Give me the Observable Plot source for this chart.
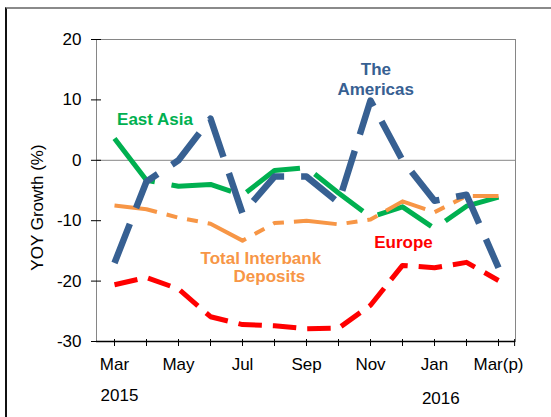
<!DOCTYPE html>
<html>
<head>
<meta charset="utf-8">
<script src="https://cdn.jsdelivr.net/npm/d3@7"></script>
<script src="https://cdn.jsdelivr.net/npm/@observablehq/plot@0.6"></script>
<style>
html, body { margin: 0; padding: 0; background: #fff; }
#wrap { position: relative; width: 551px; height: 417px; overflow: hidden; background: #fff; }
#wrap svg { position: absolute; left: 0; top: 0; }
#border { position: absolute; left: 5px; top: 7px; width: 700px; height: 600px;
  border-left: 2px solid #111; border-top: 2px solid #8a8a8a; }
</style>
</head>
<body>
<div id="wrap"></div>
<script>
// ---- data ----
const months = ["Mar","Apr","May","Jun","Jul","Aug","Sep","Oct","Nov","Dec","Jan","Feb","Mar(p)"];
const labeledMonths = ["Mar","May","Jul","Sep","Nov","Jan","Mar(p)"];
const yTicks = [-30, -20, -10, 0, 10, 20];
const yearLabels = ["2015", "2016"];
const yearMonths = ["Mar", "Jan"];

const americas = [-17.0, -3.5, 0.0, 6.9, -8.8, -2.7, -2.7, -7.0, 9.9, 0.0, -6.7, -5.7, -17.8];
const eastAsia = [3.6, -3.3, -4.3, -4.0, -5.8, -1.7, -1.2, -5.4, -9.4, -7.7, -11.3, -7.6, -6.1];
const interbank = [-7.5, -8.1, -9.5, -10.5, -13.3, -10.4, -10.0, -10.6, -9.8, -6.8, -8.6, -5.9, -5.9];
const europe = [-20.6, -19.4, -21.3, -25.9, -27.2, -27.4, -27.9, -27.8, -24.0, -17.4, -17.8, -16.9, -19.9];

// ---- layout ----
const W = 551, H = 417, ML = 96, MR = 36, MT = 39, MB = 76;
const step = (W - ML - MR) / months.length;
const font = "'Liberation Sans', Arial, sans-serif";

const toRows = vals => months.map((m, i) => ({month: m, value: vals[i]}));

const series = [
  {values: eastAsia, color: "#00B050", width: 5, dash: "61,17"},
  {values: interbank, color: "#F79646", width: 4, dash: "43,10,11,10,11,10"},
  {values: europe, color: "#FF0000", width: 5, dash: "23.5,11"},
  {values: americas, color: "#376092", width: 6.5, dash: "42,17"}
];

// annotation labels (data-space anchor + small offsets)
const notes = [
  {text: "East Asia", month: "Apr", value: 5.84, dx: 8.5, color: "#00B050"},
  {text: "The", month: "Nov", value: 14.04, dx: 5.4, color: "#376092"},
  {text: "Americas", month: "Nov", value: 10.73, dx: 5.2, color: "#376092"},
  {text: "Total Interbank", month: "Jul", value: -17.14, dx: 18.3, color: "#F79646"},
  {text: "Deposits", month: "Jul", value: -20.15, dx: 26.9, color: "#F79646"},
  {text: "Europe", month: "Dec", value: -14.52, dx: 1.0, color: "#FF0000"}
];

const marks = [
  Plot.ruleY([0], {stroke: "#868686", strokeWidth: 1}),
  Plot.frame({stroke: "#868686", strokeWidth: 1}),
  // y tick marks crossing the axis
  Plot.tickY(yTicks, {y: d => d, insetRight: (W - ML - MR) - 10, dx: -5, stroke: "#000", strokeWidth: 1}),
  // x tick marks
  Plot.tickX(months, {x: d => d, insetTop: 300, insetBottom: -5, stroke: "#000", strokeWidth: 1}),
  Plot.tickX([months[months.length - 1]], {x: d => d, dx: step / 2, insetTop: 300, insetBottom: -5, stroke: "#000", strokeWidth: 1}),
  Plot.ruleY([-30], {stroke: "#000", strokeWidth: 1.5}),
  Plot.axisY({ticks: yTicks, tickSize: 0, tickPadding: 15, tickFormat: d => String(d),
    line: true, stroke: "#000", fontSize: 17, fill: "#000", label: null}),
  Plot.axisX({ticks: labeledMonths, tickSize: 0, tickPadding: 16.5, fontSize: 17, fill: "#000", label: null}),
  ...series.map(s => Plot.line(toRows(s.values), {
    x: "month", y: "value", stroke: s.color, strokeWidth: s.width,
    strokeDasharray: s.dash, strokeLinejoin: "round", strokeLinecap: "butt"
  })),
  ...notes.map(n => Plot.text([n], {
    x: "month", y: "value", text: "text", dx: n.dx, fill: n.color,
    fontSize: 17, fontWeight: "bold", lineAnchor: "bottom", textAnchor: "middle"
  })),
  Plot.text(["YOY Growth (%)"], {text: d => d, frameAnchor: "left", textAnchor: "middle", lineAnchor: "middle",
    rotate: -90, dx: -59.4, dy: 17, fontSize: 17, fill: "#000"}),
  Plot.text([{m: yearMonths[0], t: yearLabels[0]}], {x: "m", y: () => -30, text: "t", dx: 5, dy: 59, lineAnchor: "bottom", fontSize: 17, fill: "#000"}),
  Plot.text([{m: yearMonths[1], t: yearLabels[1]}], {x: "m", y: () => -30, text: "t", dx: 6.3, dy: 62, lineAnchor: "bottom", fontSize: 17, fill: "#000"})
];

const chart = Plot.plot({
  width: W, height: H,
  marginLeft: ML, marginRight: MR, marginTop: MT, marginBottom: MB,
  style: {fontFamily: font, fontSize: "17px", color: "#000", background: "transparent", overflow: "visible"},
  x: {type: "point", domain: months, padding: 0.5, axis: null},
  y: {domain: [-30, 20], axis: null},
  marks
});

const wrap = document.getElementById("wrap");
wrap.appendChild(chart);
const border = document.createElement("div");
border.id = "border";
wrap.appendChild(border);
</script>
</body>
</html>
